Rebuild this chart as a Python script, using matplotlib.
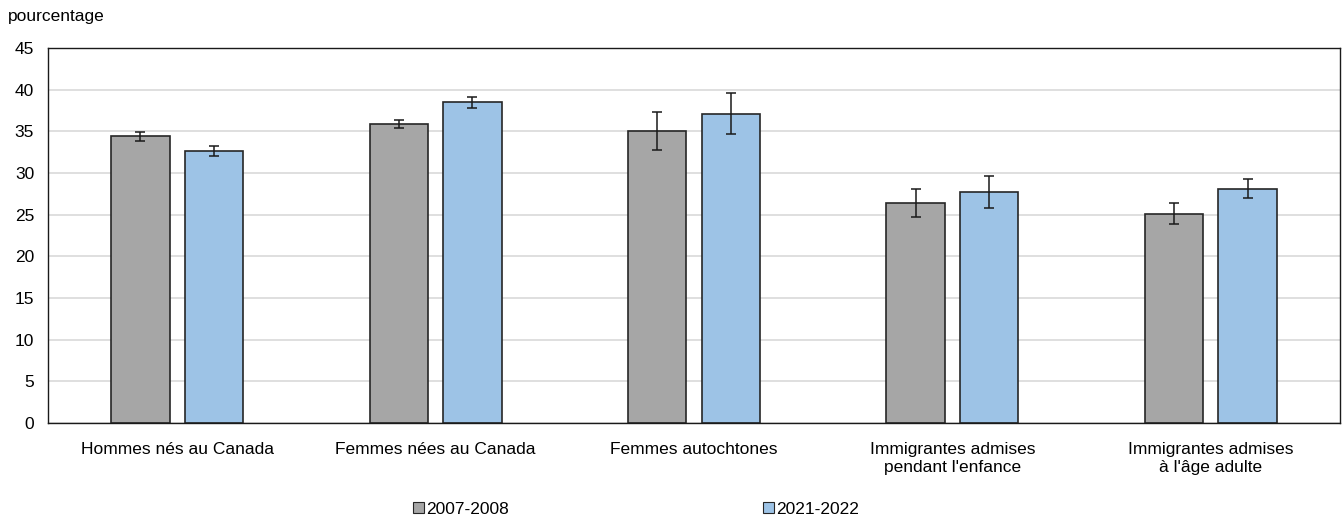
import matplotlib
matplotlib.use("Agg")
import matplotlib.pyplot as plt
import numpy as np
from matplotlib.patches import Patch

plt.rcParams['font.family'] = ['Liberation Sans', 'DejaVu Sans']

categories = ["Hommes nés au Canada", "Femmes nées au Canada", "Femmes autochtones",
              "Immigrantes admises\npendant l'enfance", "Immigrantes admises\nà l'âge adulte"]
series_names = ["2007-2008", "2021-2022"]
values_2007 = [34.4, 35.9, 35.0, 26.4, 25.1]
err_2007 = [0.5, 0.5, 2.3, 1.7, 1.25]
values_2021 = [32.6, 38.5, 37.1, 27.7, 28.1]
err_2021 = [0.6, 0.65, 2.45, 1.95, 1.15]
yticks = [0, 5, 10, 15, 20, 25, 30, 35, 40, 45]

W, H = 1342, 520
fig = plt.figure(figsize=(W/100, H/100), dpi=100)
ax = fig.add_axes([48/W, 1-423/H, (1340-48)/W, (423-48)/H])

x = np.arange(len(categories))
bw = 0.2257
off = 0.1425
c1 = "#A6A6A6"
c2 = "#9DC3E6"
ax.bar(x - off, values_2007, bw, color=c1, edgecolor="#262626", linewidth=1.2, zorder=2)
ax.bar(x + off, values_2021, bw, color=c2, edgecolor="#262626", linewidth=1.2, zorder=2)
ax.errorbar(x - off, values_2007, yerr=err_2007, fmt='none', ecolor='#1a1a1a', elinewidth=1.1,
            capsize=3.7, capthick=1.1, zorder=3)
ax.errorbar(x + off, values_2021, yerr=err_2021, fmt='none', ecolor='#1a1a1a', elinewidth=1.1,
            capsize=3.7, capthick=1.1, zorder=3)

ax.set_xlim(-0.5, len(categories) - 0.5)
ax.set_ylim(0, 45)
ax.set_yticks(yticks)
ax.set_yticklabels([str(t) for t in yticks], fontsize=12.5)
ax.set_xticks(x)
ax.set_xticklabels(categories, fontsize=12.5, linespacing=1.25)
ax.tick_params(axis='both', length=0, pad=10)
ax.tick_params(axis='x', pad=14)
ax.grid(axis='y', color='#D9D9D9', linewidth=1.2, zorder=0)
ax.set_axisbelow(True)
for s in ax.spines.values():
    s.set_color('#1a1a1a')
    s.set_linewidth(1.0)

fig.text(8/W, 1-17/H, "pourcentage", fontsize=12.5, ha='left', va='center')

handles = [Patch(facecolor=c1, edgecolor='#262626', linewidth=0.8),
           Patch(facecolor=c2, edgecolor='#262626', linewidth=0.8)]
fig.legend(handles, series_names, ncol=2, loc='center', bbox_to_anchor=(636/W, 1-509/H),
           frameon=False, fontsize=12.5, handlelength=0.65, handleheight=0.65,
           handletextpad=0.15, columnspacing=14.6)

fig.savefig("out.png", dpi=100)
